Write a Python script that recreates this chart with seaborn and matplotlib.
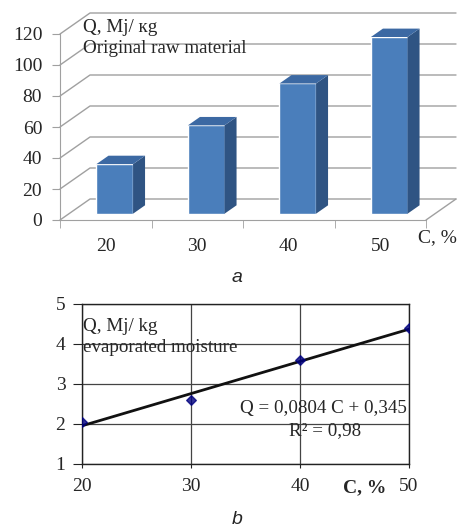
import numpy as np
import pandas as pd
import matplotlib
matplotlib.use('Agg')
import matplotlib.pyplot as plt
import seaborn as sns
from matplotlib.patches import Polygon

# panel a: heat per kg of original raw material
conc_a = ['20', '30', '40', '50']
q_raw = [32, 57, 84, 114]

# panel b: heat per kg of evaporated moisture
conc_b = [20, 30, 40, 50]
q_moist = [2.05, 2.6, 3.6, 4.4]

sns.set_style('white')
plt.rcParams['font.family'] = ['Liberation Serif', 'DejaVu Serif']
plt.rcParams['font.size'] = 13.7

fig = plt.figure(figsize=(4.61, 5.27), dpi=100)

# ---------- panel a: pseudo 3d columns ----------
ax = fig.add_axes([60/461, 1-220/527, 366/461, 186/527])
df_a = pd.DataFrame({'C': conc_a, 'Q': q_raw})
sns.barplot(data=df_a, x='C', y='Q', width=0.4, color='#4a7ebb',
            saturation=1, errorbar=None, ax=ax)
ax.set_xlim(-0.5, 3.5)
ax.set_ylim(0, 120)

DX, DY = 30/91.5, 21/1.55   # depth offset in data units
d0, d1 = 0.3, 0.7           # bar depth range
grid_c = '#a0a0a0'

# walls
for v in range(0, 121, 20):
    ax.plot([-0.5, -0.5+DX, 3.5+DX], [v, v+DY, v+DY], color=grid_c, lw=1,
            clip_on=False, zorder=0)
ax.plot([3.5, 3.5+DX], [0, DY], color=grid_c, lw=1, clip_on=False, zorder=0)

for p, h in zip(ax.patches, q_raw):
    x0 = p.get_x() + d0*DX
    w = p.get_width()
    p.set_x(x0)
    p.set_y(d0*DY)
    p.set_clip_on(False)
    p.set_zorder(3)
    x1 = x0 + w
    side = [(x1, d0*DY), (x1+(d1-d0)*DX, d1*DY), (x1+(d1-d0)*DX, h+d1*DY), (x1, h+d0*DY)]
    top = [(x0, h+d0*DY), (x1, h+d0*DY), (x1+(d1-d0)*DX, h+d1*DY), (x0+(d1-d0)*DX, h+d1*DY)]
    ax.add_patch(Polygon(side, closed=True, fc='#2f5483', ec='none', clip_on=False, zorder=3))
    ax.add_patch(Polygon(top, closed=True, fc='#3c69a3', ec='none', clip_on=False, zorder=3))

for s in ['top', 'right']:
    ax.spines[s].set_visible(False)
for s in ['left', 'bottom']:
    ax.spines[s].set_color(grid_c)
ax.set_yticks(range(0, 121, 20))
ax.set_xticks(range(4))
ax.set_xticklabels(conc_a)
ax.set_xticks(np.arange(-0.5, 4, 1), minor=True)
ax.tick_params(axis='y', length=5.8, color=grid_c, pad=7, labelsize=14, left=True)
ax.tick_params(axis='x', which='major', length=0, pad=13, labelsize=14)
ax.tick_params(axis='x', which='minor', length=6, color=grid_c, bottom=True)
ax.set_xlabel('')
ax.set_ylabel('')
ax.text((83-60)/366, (220-28)/186, 'Q, Mj/ кg', transform=ax.transAxes, va='center', ha='left')
ax.text((83-60)/366, (220-49)/186, 'Original raw material', transform=ax.transAxes,
        va='center', ha='left')
fig.text(457/461, 1-238/527, 'C, %', ha='right', va='center', fontsize=14)
fig.text(237/461, 1-278/527, 'a', ha='center', va='center', fontsize=14,
         family='Liberation Sans', style='italic')

# ---------- panel b: regression ----------
bx = fig.add_axes([82/461, 1-464/527, 327/461, 160/527])
sns.regplot(x=conc_b, y=q_moist, ci=None, truncate=True, marker='D', ax=bx,
            scatter_kws=dict(color='#000080', s=24, zorder=4),
            line_kws=dict(color='#111111', lw=2, zorder=3))
bx.set_xlim(20, 50)
bx.set_ylim(1, 5)
bx.set_xticks([20, 30, 40, 50])
bx.set_yticks([1, 2, 3, 4, 5])
bx.grid(True, color='#444444', lw=0.9)
for s in bx.spines.values():
    s.set_color('#222222')
    s.set_linewidth(1)
bx.tick_params(axis='y', length=6.5, pad=5.5, labelsize=14, left=True, color='#222222')
bx.tick_params(axis='x', length=3, pad=7, labelsize=14, bottom=True, color='#222222')
bx.text(20.1, 4.43, 'Q, Mj/ kg', va='center', ha='left')
bx.text(20.1, 3.9, 'evaporated moisture', va='center', ha='left')
bx.text(49.8, 2.4, 'Q = 0,0804 C + 0,345', va='center', ha='right')
bx.text(42.3, 1.83, 'R² = 0,98', va='center', ha='center')
fig.text(365/461, 1-488/527, 'C, %', ha='center', va='center', fontsize=14,
         fontweight='bold')
fig.text(237/461, 1-519/527, 'b', ha='center', va='center', fontsize=14,
         family='Liberation Sans', style='italic')

fig.savefig('out.png', dpi=100)
